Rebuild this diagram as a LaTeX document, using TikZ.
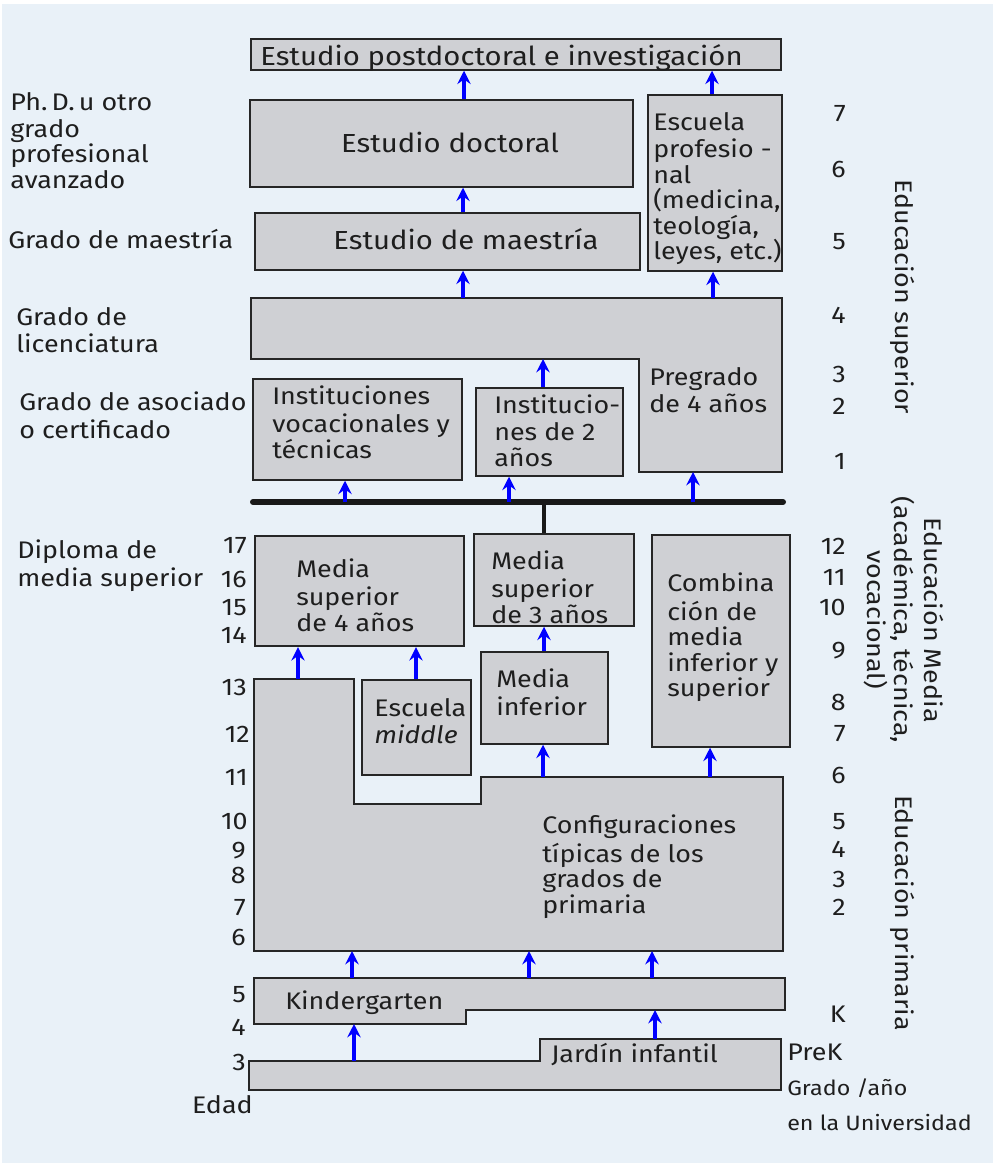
\documentclass[tikz,border=0pt]{standalone}
\usepackage{fontspec}
\setmainfont{Fira Sans}[FakeStretch=1.12]
\usetikzlibrary{arrows.meta,fit}
\definecolor{bgblue}{HTML}{E9F1F8}
\definecolor{boxgray}{HTML}{CFD0D4}
\definecolor{edgec}{HTML}{262626}
\definecolor{txtc}{HTML}{1E1E1E}
\definecolor{arrblue}{HTML}{0000FF}
\begin{document}
\begin{tikzpicture}[x=0.75pt, y=-0.75pt,
  box/.style={draw=edgec, fill=boxgray, line width=1.1pt},
  rbox/.style={box, inner sep=0pt},
  nfont/.style={font=\fontsize{18}{19.1}\selectfont},
  bfont/.style={font=\fontsize{19.6}{22}\selectfont},
  sfont/.style={font=\fontsize{15.6}{19.1}\selectfont},
  ml/.style={anchor=north west, inner sep=0pt, align=left, text=txtc, nfont},
  sl/.style={anchor=base west, inner sep=0pt, text=txtc, nfont},
  num/.style={anchor=base east, inner sep=0pt, text=txtc, nfont},
  rnum/.style={anchor=base east, inner sep=0pt, text=txtc, nfont},
  side/.style={rotate=-90, inner sep=0pt, text=txtc, nfont},
  arr/.style={draw=arrblue, line width=3pt, -{Stealth[length=10pt, width=10pt, inset=3.5pt]}},
]
% background
\fill[white] (0,0) rectangle (993,1163);
\fill[bgblue] (2,4) rectangle (993,1163);
\useasboundingbox (0,0) rectangle (993,1163);

% ---------- higher education boxes ----------
\node[rbox, fit={(251,39) (781,70)}] (post) {};
\node[rbox, fit={(250,100) (633,187)}] (doc) {};
\node[rbox, fit={(648,95) (782,271)}] (prof) {};
\node[rbox, fit={(255,213) (640,270)}] (maes) {};
\draw[box] (251,298) coordinate (lic-tl) -- (782,298) -- (782,472) coordinate (lic-br)
  -- (639,472) -- (639,359) coordinate (lic-in) -- (251,359) -- cycle;
\node[rbox, fit={(253,379) (462,480)}] (voc) {};
\node[rbox, fit={(476,388) (623,476)}] (two) {};

% bar and stem
\draw[line width=4.5pt, line cap=round, draw=black!90] (253,502) coordinate (bar-l) -- (783,502) coordinate (bar-r);

% ---------- secondary ----------
\node[rbox, fit={(255,536) (464,646)}, line width=1.8pt] (ms4) {};
\node[rbox, fit={(474,534) (634,626)}] (ms3) {};
\node[rbox, fit={(481,652) (608,744)}] (mi) {};
\node[rbox, fit={(652,535) (790,747)}] (comb) {};
\node[rbox, fit={(362,680) (471,775)}] (mid) {};
\draw[line width=3pt, draw=black!90] (544,0 |- bar-l) -- (544,0 |- ms3.north);

% ---------- primary ----------
\draw[box] (254,679) coordinate (prim-tl) -- (354,679) -- (354,804) -- (481,804) -- (481,777) coordinate (prim-step)
  -- (783,777) -- (783,951) -- (254,951) coordinate (prim-bl) -- cycle;
\draw[box] (254,978) coordinate (kg-tl) -- (785,978) -- (785,1010) coordinate (kg-br) -- (466,1010) -- (466,1024)
  -- (254,1024) coordinate (kg-bl) -- cycle;
\draw[box] (249,1061) coordinate (pk-tl) -- (540,1061) -- (540,1039) coordinate (pk-step) -- (781,1039) -- (781,1090)
  -- (249,1090) -- cycle;

% ---------- arrows ----------
\draw[arr] (464,0 |- doc.north) -- (464,0 |- post.south);
\draw[arr] (712,0 |- prof.north) -- (712,0 |- post.south);
\draw[arr] (463,0 |- maes.north) -- (463,0 |- doc.south);
\draw[arr] (463,0 |- lic-tl) -- (463,0 |- maes.south);
\draw[arr] (713,0 |- lic-tl) -- (713,0 |- prof.south);
\draw[arr] (543,0 |- two.north) -- (543,0 |- lic-in);
\draw[arr] (345,0 |- bar-l) -- (345,0 |- voc.south);
\draw[arr] (509,0 |- bar-l) -- (509,0 |- two.south);
\draw[arr] (693,0 |- bar-l) -- (693,0 |- lic-br);
\draw[arr] (298,0 |- prim-tl) -- (298,0 |- ms4.south);
\draw[arr] (416,0 |- mid.north) -- (416,0 |- ms4.south);
\draw[arr] (544,0 |- mi.north) -- (544,0 |- ms3.south);
\draw[arr] (543,0 |- prim-step) -- (543,0 |- mi.south);
\draw[arr] (710,0 |- prim-step) -- (710,0 |- comb.south);
\draw[arr] (352,0 |- kg-tl) -- (352,0 |- prim-bl);
\draw[arr] (529,0 |- kg-tl) -- (529,0 |- prim-bl);
\draw[arr] (652,0 |- kg-tl) -- (652,0 |- prim-bl);
\draw[arr] (354,0 |- pk-tl) -- (354,0 |- kg-bl);
\draw[arr] (655,0 |- pk-step) -- (655,0 |- kg-br);

% ---------- box texts ----------
\node[sl, bfont] (t-post) at (260,65) {Estudio postdoctoral e investigación};
\node[anchor=base, inner sep=0pt, text=txtc, bfont] (t-doc) at (450,152) {Estudio doctoral};
\node[anchor=base, inner sep=0pt, text=txtc, bfont] (t-maes) at (466,249) {Estudio de maestría};
\node[ml] (t-prof) at (653,112) {\strut Escuela\\profesio -\\nal\\(medicina,\\teología,\\leyes, etc.)};
\node[ml] (t-voc) at (272,386) {\strut Instituciones\\vocacionales y\\técnicas};
\node[ml] (t-two) at (494,395) {\strut Institucio-\\nes de 2\\años};
\node[ml] (t-preg) at (649,367) {\strut Pregrado\\de 4 años};
\node[ml] (t-ms4) at (296,559) {\strut Media\\superior\\de 4 años};
\node[ml] (t-ms3) at (491,551) {\strut Media\\superior\\de 3 años};
\node[ml] (t-mi) at (496,669) {\strut Media\\inferior};
\node[ml] (t-comb) at (667,573) {\strut Combina\\ción de\\media\\inferior y\\superior};
\node[ml] (t-mid) at (374,698) {\strut Escuela\\\textit{middle}};
\node[ml] (t-conf) at (542,815) {\strut Configuraciones\\típicas de los\\grados de\\primaria};
\node[sl] (t-kg) at (285,1009) {Kindergarten};
\node[sl] (t-pk) at (551,1062) {Jardín infantil};

% ---------- left labels ----------
\node[ml] (l-phd) at (10,92) {\strut Ph.\,D.\,u otro\\grado\\profesional\\avanzado};
\node[sl] (l-maes) at (8,248) {Grado de maestría};
\node[ml] (l-lic) at (16,307) {\strut Grado de\\licenciatura};
\node[ml] (l-aso) at (19,392) {\strut Grado de asociado\\o certificado};
\node[ml] (l-dip) at (17,540) {\strut Diploma de\\media superior};

% ---------- ages ----------
\node[num] (a17) at (247,553) {17};
\node[num] (a16) at (247,587) {16};
\node[num] (a15) at (247,615) {15};
\node[num] (a14) at (247,643) {14};
\node[num] (a13) at (247,695) {13};
\node[num] (a12) at (250,742) {12};
\node[num] (a11) at (248,785) {11};
\node[num] (a10) at (248,829) {10};
\node[num] (a9) at (246,858) {9};
\node[num] (a8) at (246,883) {8};
\node[num] (a7) at (246,915) {7};
\node[num] (a6) at (246,945) {6};
\node[num] (a5) at (246,1002) {5};
\node[num] (a4) at (246,1035) {4};
\node[num] (a3) at (246,1070) {3};
\node[num] (edad) at (253,1113) {Edad};

% ---------- grades ----------
\node[rnum] (g7) at (846,122) {7};
\node[rnum] (g6) at (846,177) {6};
\node[rnum] (g5) at (846,249) {5};
\node[rnum] (g4) at (846,323) {4};
\node[rnum] (g3) at (846,382) {3};
\node[rnum] (g2) at (846,414) {2};
\node[rnum] (g1) at (846,469) {1};
\node[rnum] (s12) at (846,554) {12};
\node[rnum] (s11) at (846,585) {11};
\node[rnum] (s10) at (846,615) {10};
\node[rnum] (s9) at (846,658) {9};
\node[rnum] (s8) at (846,710) {8};
\node[rnum] (s7) at (846,741) {7};
\node[rnum] (s6) at (846,783) {6};
\node[rnum] (p5) at (846,829) {5};
\node[rnum] (p4) at (846,857) {4};
\node[rnum] (p3) at (846,887) {3};
\node[rnum] (p2) at (846,915) {2};
\node[rnum] (pK) at (846,1022) {K};
\node[sl] (prek) at (787,1060) {PreK};
\node[sl, sfont] (gya) at (787,1095) {Grado /año};
\node[sl, sfont] (univ) at (787,1130) {en la Universidad};

% ---------- side labels ----------
\node[side, anchor=base] (ed-sup) at (895,297) {Educación superior};
\node[side, anchor=north, align=center, font=\fontsize{18}{20.6}\selectfont] (ed-med) at (944,620)
  {\strut Educación Media\\(académica, técnica,\\vocacional)};
\node[side, anchor=base] (ed-prim) at (895,913) {Educación primaria};
\end{tikzpicture}
\end{document}
